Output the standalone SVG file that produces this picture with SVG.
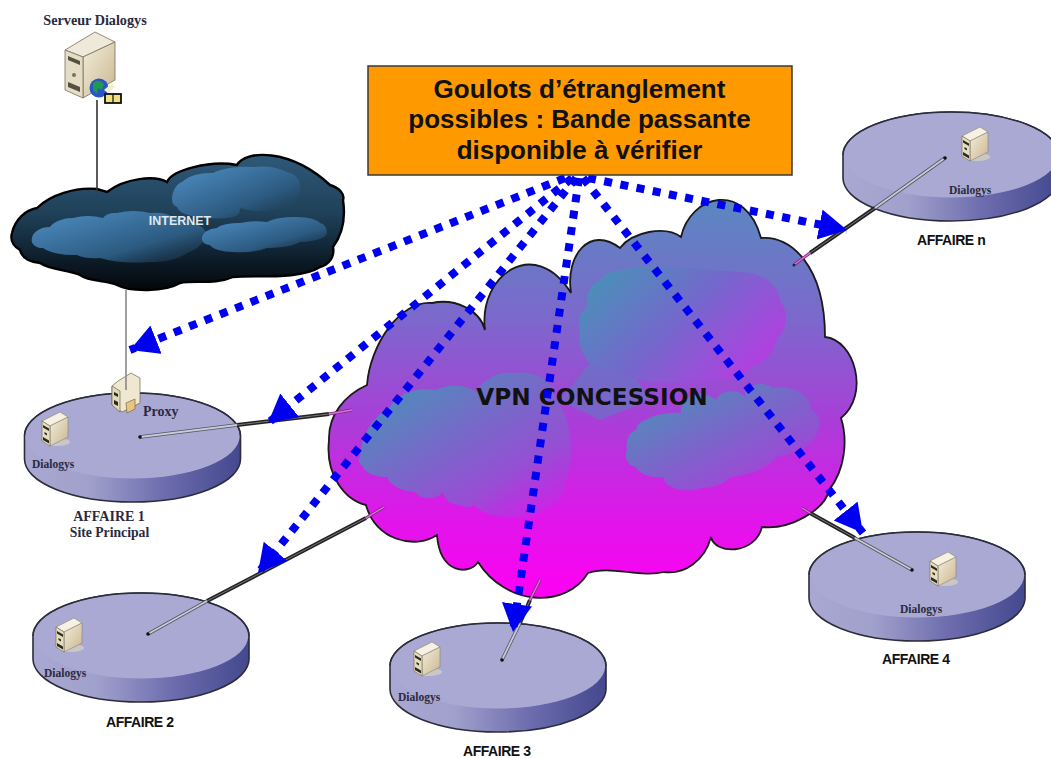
<svg xmlns="http://www.w3.org/2000/svg" width="1051" height="758" viewBox="0 0 1051 758">
<style>
text{font-family:"Liberation Sans",Arial,sans-serif}
.sf{font-family:"Liberation Serif","Times New Roman",serif;font-weight:bold;fill:#2a2a3e}
.dl{font-size:11.500px}
.af{font-size:14px;font-weight:bold;fill:#111;letter-spacing:-.45px}
.hd{font-size:26px;font-weight:bold;fill:#111;text-anchor:middle}
.vp{font-family:"DejaVu Sans",Verdana,sans-serif;font-size:23.200px;font-weight:bold;fill:#111;text-anchor:middle}
.dash{fill:none;stroke:#0000f0;stroke-width:8;stroke-dasharray:8 8.500;marker-end:url(#head)}
.co{fill:none;stroke:#222;stroke-width:4}
.ci{fill:none;stroke:#777;stroke-width:1}
.di{fill:none;stroke:#555;stroke-width:3.400}
.dw{fill:none;stroke:#c8c8e2;stroke-width:1.800}
.pk{fill:none;stroke:#7a2a7a;stroke-width:3}
.pw{fill:none;stroke:#e070e0;stroke-width:1.400}
.wire{stroke-width:1.600;fill:none}
</style>
<defs>
<linearGradient id="side" x1="0" x2="1" y1="0" y2="0">
<stop offset="0" stop-color="#a8a8d2"/><stop offset=".3" stop-color="#a0a0cc"/><stop offset=".65" stop-color="#6c6cae"/><stop offset="1" stop-color="#44488e"/>
</linearGradient>
<linearGradient id="vpn" x1="0" x2="0" y1="198" y2="598" gradientUnits="userSpaceOnUse">
<stop offset="0" stop-color="#5a88c0"/><stop offset=".3" stop-color="#7c68cc"/><stop offset=".55" stop-color="#a83fd8"/><stop offset=".8" stop-color="#e016ea"/><stop offset="1" stop-color="#ff00f4"/>
</linearGradient>
<linearGradient id="puff" x1="0" x2="1" y1="0" y2="1">
<stop offset=".1" stop-color="#4a90b8"/><stop offset=".7" stop-color="#8a58d0" stop-opacity=".8"/><stop offset="1" stop-color="#a040e0" stop-opacity="0"/>
</linearGradient>
<linearGradient id="puffb" x1="0" x2="1" y1="0" y2=".6">
<stop offset=".1" stop-color="#4a90b8"/><stop offset=".55" stop-color="#7468cc"/><stop offset="1" stop-color="#b040e0"/>
</linearGradient>
<linearGradient id="net" x1="0" x2="0" y1="153" y2="290" gradientUnits="userSpaceOnUse">
<stop offset="0" stop-color="#2f5a7a"/><stop offset=".45" stop-color="#1f4058"/><stop offset=".8" stop-color="#0c1a26"/><stop offset="1" stop-color="#04070b"/>
</linearGradient>
<linearGradient id="npuff" x1="0" x2="1" y1="0" y2="1">
<stop offset=".1" stop-color="#4a88bc"/><stop offset=".65" stop-color="#2c5a80"/><stop offset="1" stop-color="#1a3248" stop-opacity=".3"/>
</linearGradient>
<linearGradient id="srvR" x1="0" x2="1" y1="0" y2="1">
<stop offset="0" stop-color="#f4eedd"/><stop offset="1" stop-color="#c9b68e"/>
</linearGradient>
<marker id="head" markerWidth="4" markerHeight="4" refX="3.500" refY="1.900" orient="auto">
<path d="M0,0 L3.500,1.900 L0,3.800 Z" fill="#0000f0"/>
</marker>
<g id="disc">
<path d="M-108,0 V23 A108,43 0 0 0 108,23 V0 A108,43 0 0 0 -108,0 Z" fill="url(#side)" stroke="#2c2c3c" stroke-width="1.600"/>
<ellipse cx="0" cy="0" rx="107.200" ry="42.500" fill="#a9a9d3"/>
<path d="M-108,0 A108,43 0 0 1 108,0" fill="none" stroke="#2c2c3c" stroke-width="1.400"/>
</g>
<g id="srv">
<ellipse cx="15" cy="30" rx="13" ry="4" fill="#d8d4c0" opacity=".7"/>
<path d="M0,9 L18,0 L26,5 L8,14 Z" fill="#f6f1e2" stroke="#8a8470" stroke-width=".6"/>
<path d="M8,14 L26,5 V25 L8,34 Z" fill="url(#srvR)" stroke="#8a8470" stroke-width=".6"/>
<path d="M0,9 L8,14 V34 L0,29 Z" fill="#e6dcc0" stroke="#6a6450" stroke-width=".6"/>
<path d="M1,13 L7,16.500 V19 L1,15.500 Z M2.500,20 L5,21.500 V23.500 L2.500,22 Z M1,25 L7,28.500 V31.500 L1,28 Z" fill="#2a2a20"/>
</g>
</defs>
<rect width="1051" height="758" fill="#fff"/>

<g id="serveur">
<text x="95" y="25" class="sf" font-size="14.200" text-anchor="middle">Serveur Dialogys</text>
<path d="M95,32 L115,42 L83,57 L65,50 Z" fill="#efe9da" stroke="#77705c" stroke-width=".8"/>
<path d="M83,57 L115,42 V80 L83,98 Z" fill="url(#srvR)" stroke="#77705c" stroke-width=".8"/>
<path d="M65,50 L83,57 V98 L65,90 Z" fill="#e4dcc4" stroke="#77705c" stroke-width=".8"/>
<path d="M68,56 L80,61 V65 L68,60 Z M68,82 L80,87 V92 L68,87 Z" fill="#55503f"/>
<circle cx="74" cy="75" r="2" fill="#77705c"/>
<circle cx="99" cy="88" r="9.500" fill="#2a55c8"/>
<path d="M93,83 Q99,78 104,84 L102,90 L98,88 L97,94 L93,90 Z" fill="#1f9a4c"/>
<path d="M104,90 L112,83 L115,87 L108,93 Z" fill="#f3edc8"/>
<rect x="105" y="94" width="16" height="9" fill="#f0e27a" stroke="#111" stroke-width="1.800"/>
<path d="M113,94 V103" stroke="#111" stroke-width="1.200"/>
</g>

<g id="internet">
<path d="M12,233 C15,220 25,210 37,208 C50,195 75,187 97,189 L107,192 C125,178 155,175 167,182 C172,170 210,160 237,165 C245,150 290,148 330,185 C340,188 345,195 343,200 C346,220 342,235 333,247 C335,258 328,265 320,267 C300,280 255,275 233,277 C215,285 195,280 180,283 C165,292 130,292 117,285 C105,280 90,282 80,275 C70,270 50,270 40,263 C30,262 22,258 20,250 C12,245 10,240 12,233Z" fill="url(#net)" stroke="#000" stroke-width="2.400"/>
<path d="M32,238 A18,12 0 0 1 50,227 A25,15 0 0 1 73,218 A30,14 0 0 1 103,218 A14,9 0 0 1 117,213 A34,14 0 0 1 150,213 A24,12 0 0 1 173,217 A45,24 0 0 1 207,233 A30,26 0 0 1 187,253 A40,20 0 0 1 150,262 A50,14 0 0 1 100,258 A24,10 0 0 1 77,255 A35,14 0 0 1 43,248 A10,8 0 0 1 32,238Z" fill="url(#npuff)"/>
<path d="M172,200 A14,18 0 0 1 182,182 A32,18 0 0 1 213,173 A40,16 0 0 1 253,167 A34,16 0 0 1 287,172 A16,15 0 0 1 300,187 A14,14 0 0 1 297,200 A26,12 0 0 1 273,210 A34,14 0 0 1 240,208 A8,8 0 0 1 233,217 A34,12 0 0 1 200,217 A24,12 0 0 1 177,207 A8,8 0 0 1 172,200Z" fill="url(#npuff)"/>
<path d="M202,238 A16,10 0 0 1 217,228 A24,8 0 0 1 240,223 A27,8 0 0 1 267,222 A30,8 0 0 1 297,217 A24,9 0 0 1 320,223 A8,10 0 0 1 327,233 A28,9 0 0 1 300,242 A34,10 0 0 1 267,248 A34,10 0 0 1 233,252 A24,9 0 0 1 210,245 A8,6 0 0 1 202,238Z" fill="url(#npuff)"/>
<text x="180" y="225" font-size="12.500" font-weight="bold" fill="#dfe8f0" text-anchor="middle">INTERNET</text>
</g>

<g id="affaire1">
<use href="#disc" x="132.500" y="436"/>
<use href="#srv" x="42" y="412"/>
<text x="32" y="468" class="sf dl">Dialogys</text>
<text x="109" y="521" class="sf" font-size="14" text-anchor="middle" fill="#444">AFFAIRE 1</text>
<text x="109.500" y="537" class="sf" font-size="13.700" text-anchor="middle" fill="#444">Site Principal</text>
</g>
<g id="affairen">
<use href="#disc" x="951" y="155"/>
<use href="#srv" x="962" y="127"/>
<text x="949" y="194" class="sf dl">Dialogys</text>
<text x="917" y="245" class="af">AFFAIRE n</text>
</g>
<g id="affaire2">
<use href="#disc" x="141" y="636"/>
<use href="#srv" x="56" y="618"/>
<text x="44" y="677" class="sf dl">Dialogys</text>
<text x="106" y="727" class="af">AFFAIRE 2</text>
</g>
<g id="affaire3">
<use href="#disc" x="498" y="666"/>
<use href="#srv" x="414" y="642"/>
<text x="398" y="701" class="sf dl">Dialogys</text>
<text x="463" y="756" class="af">AFFAIRE 3</text>
</g>
<g id="affaire4">
<use href="#disc" x="917" y="575"/>
<use href="#srv" x="930" y="552"/>
<text x="900" y="613" class="sf dl">Dialogys</text>
<text x="882" y="664" class="af">AFFAIRE 4</text>
</g>

<g id="vpn-concession">
<path d="M485,330 C478,275 535,235 571,293 C565,255 590,225 620,248 C632,232 665,225 681,237 C690,195 745,180 761,238 C790,235 825,265 825,337 C855,340 870,395 841,418 C848,440 845,470 829,490 C825,510 790,530 762,527 C755,555 715,555 711,537 C705,560 685,575 664,572 C640,578 610,565 588,573 C565,610 505,605 478,562 C470,575 440,575 437,535 C415,550 375,540 366,505 C345,500 325,475 329,440 C328,415 345,395 367,385 C370,345 400,300 432,303 C455,298 480,310 485,330Z" fill="url(#vpn)" stroke="#1a1a1a" stroke-width="1.800"/>
<path d="M590,363 L628,366 L650,400 L600,420 L560,400 Z" fill="#5a80c0" opacity=".55"/>
<path d="M580,330 A14,18 0 0 1 587,307 A20,24 0 0 1 601,280 A24,16 0 0 1 622,270 C660,262 700,270 740,272 A40,30 0 0 1 780,300 A30,30 0 0 1 776,340 A34,34 0 0 1 752,367 A40,30 0 0 1 716,380 C690,385 640,385 610,370 L590,363 A30,34 0 0 1 580,330Z" fill="url(#puffb)"/>
<path d="M360,457 A60,60 0 0 1 390,407 A40,30 0 0 1 436,390 A30,20 0 0 1 478,393 A14,14 0 0 1 488,380 A30,22 0 0 1 516,373 A30,20 0 0 1 552,392 A80,90 0 0 1 566,483 A30,30 0 0 1 545,510 A30,20 0 0 1 516,518 A44,24 0 0 1 474,505 A12,10 0 0 1 460,505 A18,14 0 0 1 443,492 A16,12 0 0 1 415,492 A30,20 0 0 1 387,477 A24,14 0 0 1 362,465 A5,5 0 0 1 360,457Z" fill="url(#puff)"/>
<path d="M627,450 A12,16 0 0 1 636,430 A12,12 0 0 1 646,420 A36,16 0 0 1 681,413 A20,16 0 0 1 716,400 A16,12 0 0 1 745,397 A16,12 0 0 1 773,388 A30,22 0 0 1 811,410 A14,14 0 0 1 818,430 A50,30 0 0 1 776,457 A60,30 0 0 1 730,477 A30,20 0 0 1 702,488 A24,12 0 0 1 664,477 A24,14 0 0 1 636,467 A12,12 0 0 1 627,450Z" fill="url(#puff)"/>
<text x="592" y="405" class="vp">VPN CONCESSION</text>
</g>

<g id="proxy">
<path d="M118,381 L131,373 L140,378 V403 L122,412 L112,405 V386 Z" fill="#efe7d0" stroke="#6a6450" stroke-width=".7"/>
<path d="M112,386 L120,391 V412 L112,405 Z" fill="#e2d8ba" stroke="#6a6450" stroke-width=".7"/>
<path d="M114,392 L118,394 V397 L114,395 Z M114,400 L118,402 V406 L114,404 Z" fill="#2a2a20"/>
<path d="M126,403 L135,399 V409 L127,413 Z" fill="#e7c684" stroke="#7a6a3a" stroke-width=".7"/>
<text x="143" y="416" class="sf" font-size="14">Proxy</text>
</g>

<g id="connectors">
<path class="wire" stroke="#333" d="M97,100 V190"/>
<path class="wire" stroke="#888" d="M126,290 V390"/>

<path class="co" d="M237,425 L329,414"/><path class="ci" d="M237,425 L329,414"/>
<path class="di" d="M140,437 L237,425"/><path class="dw" d="M140,437 L237,425"/>
<path class="pk" d="M329,414 L352,410"/><path class="pw" d="M329,414 L352,410"/>
<circle cx="140" cy="437" r="1.800" fill="#111"/>

<path class="co" d="M875,208 L810,253"/><path class="ci" d="M875,208 L810,253"/>
<path class="di" d="M945,158 L875,208"/><path class="dw" d="M945,158 L875,208"/>
<path class="pk" d="M810,253 L795,264"/><path class="pw" d="M810,253 L795,264"/>
<circle cx="945" cy="158" r="1.800" fill="#111"/><circle cx="794" cy="265" r="1.500" fill="#223"/>

<path class="co" d="M207,601 L366,518"/><path class="ci" d="M207,601 L366,518"/>
<path class="di" d="M148,634 L207,601"/><path class="dw" d="M148,634 L207,601"/>
<path class="pk" d="M366,518 L384,507"/><path class="pw" d="M366,518 L384,507"/>
<circle cx="148" cy="634" r="1.800" fill="#111"/>

<path class="co" d="M520,623 L530,600"/><path class="ci" d="M520,623 L530,600"/>
<path class="di" d="M502,660 L520,623"/><path class="dw" d="M502,660 L520,623"/>
<path class="pk" d="M530,600 L540,580"/><path class="pw" d="M530,600 L540,580"/>
<circle cx="502" cy="660" r="1.800" fill="#111"/>

<path class="co" d="M855,538 L810,513"/><path class="ci" d="M855,538 L810,513"/>
<path class="di" d="M912,570 L855,538"/><path class="dw" d="M912,570 L855,538"/>
<path class="pk" d="M810,513 L802,508"/><path class="pw" d="M810,513 L802,508"/>
<circle cx="912" cy="570" r="1.800" fill="#111"/>

<path class="dash" d="M565,178 L130,350"/>
<path class="dash" d="M572,178 L268,423"/>
<path class="dash" d="M576,178 L258,573"/>
<path class="dash" d="M579,178 L513,632"/>
<path class="dash" d="M583,178 L863,533"/>
<path class="dash" d="M588,178 L847,230"/>
</g>

<g id="goulots">
<rect x="368" y="66" width="424" height="109" fill="#ff9900" stroke="#3a3a3a" stroke-width="1.500"/>
<text x="579.500" y="98" class="hd">Goulots d’étranglement</text>
<text x="579.500" y="128" class="hd">possibles : Bande passante</text>
<text x="579.500" y="159" class="hd">disponible à vérifier</text>
</g>
</svg>
